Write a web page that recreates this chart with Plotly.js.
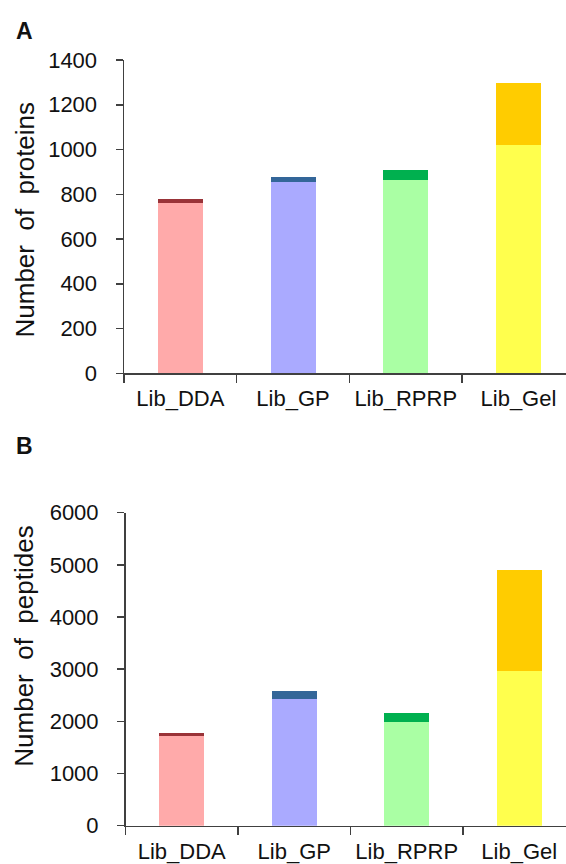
<!DOCTYPE html>
<html>
<head>
<meta charset="utf-8">
<script src="https://cdn.plot.ly/plotly-3.0.1.min.js"></script>
<style>html,body{margin:0;padding:0;background:#fff;}#chart{width:566px;height:864px;}</style>
</head>
<body>
<div id="chart"></div>
<script>
var categories = ['Lib_DDA', 'Lib_GP', 'Lib_RPRP', 'Lib_Gel'];
var proteinsBase = [760, 855, 865, 1020];
var proteinsExtra = [18, 22, 45, 278];
var peptidesBase = [1720, 2430, 1980, 2970];
var peptidesExtra = [60, 150, 190, 1930];
var baseColors = ['#FFAAAA', '#AAAAFF', '#AAFFA4', '#FFFF4D'];
var extraColors = ['#993338', '#336699', '#00B04F', '#FFCC00'];
var yTicksA = [0, 200, 400, 600, 800, 1000, 1200, 1400];
var yTicksB = [0, 1000, 2000, 3000, 4000, 5000, 6000];

var W = 566, H = 864;
var font = 'Liberation Sans, Arial, sans-serif';

var traces = [
  {type: 'bar', x: categories, y: proteinsBase, marker: {color: baseColors}, xaxis: 'x', yaxis: 'y', hoverinfo: 'y'},
  {type: 'bar', x: categories, y: proteinsExtra, marker: {color: extraColors}, xaxis: 'x', yaxis: 'y', hoverinfo: 'y'},
  {type: 'bar', x: categories, y: peptidesBase, marker: {color: baseColors}, xaxis: 'x2', yaxis: 'y2', hoverinfo: 'y'},
  {type: 'bar', x: categories, y: peptidesExtra, marker: {color: extraColors}, xaxis: 'x2', yaxis: 'y2', hoverinfo: 'y'}
];

function xAxis(domL, range, anchor) {
  return {
    domain: [domL / W, 1], range: range, anchor: anchor,
    type: 'category', tickson: 'boundaries',
    showline: true, linecolor: '#404040', linewidth: 1.5,
    ticks: 'outside', ticklen: 8, tickwidth: 1.5, tickcolor: '#404040',
    showgrid: false, zeroline: false,
    tickfont: {family: font, size: 22, color: '#111'},
    ticklabelstandoff: 5, fixedrange: true
  };
}
function yAxis(top, bottom, range, tickvals, anchor) {
  return {
    domain: [1 - bottom / H, 1 - top / H], range: range, anchor: anchor,
    tickvals: tickvals,
    showline: true, linecolor: '#404040', linewidth: 1.5,
    ticks: 'outside', ticklen: 7, tickwidth: 1.5, tickcolor: '#404040',
    showgrid: false, zeroline: false,
    tickfont: {family: font, size: 22, color: '#111'},
    ticklabelstandoff: 14, fixedrange: true
  };
}

var layout = {
  width: W, height: H,
  margin: {l: 0, r: 0, t: 0, b: 0},
  paper_bgcolor: '#fff', plot_bgcolor: '#fff',
  barmode: 'stack', bargap: 0.6, showlegend: false,
  xaxis: xAxis(124, [-0.5, 3.422], 'y'),
  yaxis: yAxis(60, 373.3, [0, 1400], yTicksA, 'x'),
  xaxis2: xAxis(125.5, [-0.5, 3.416], 'y2'),
  yaxis2: yAxis(512.7, 825.7, [0, 6000], yTicksB, 'x2'),
  annotations: [
    {text: '<b>A</b>', xref: 'paper', yref: 'paper', x: 14 / W, y: 1 - 31 / H, xanchor: 'left', yanchor: 'middle', showarrow: false, font: {family: font, size: 23, color: '#111'}},
    {text: '<b>B</b>', xref: 'paper', yref: 'paper', x: 14 / W, y: 1 - 445.5 / H, xanchor: 'left', yanchor: 'middle', showarrow: false, font: {family: font, size: 23, color: '#111'}},
    {text: 'Number  of  proteins', xref: 'paper', yref: 'paper', x: 24 / W, y: 1 - 219.5 / H, xanchor: 'center', yanchor: 'middle', textangle: -90, showarrow: false, font: {family: font, size: 26, color: '#111'}},
    {text: 'Number  of  peptides', xref: 'paper', yref: 'paper', x: 24 / W, y: 1 - 646.7 / H, xanchor: 'center', yanchor: 'middle', textangle: -90, showarrow: false, font: {family: font, size: 26, color: '#111'}}
  ]
};

Plotly.newPlot('chart', traces, layout, {displayModeBar: false, staticPlot: true});
</script>
</body>
</html>
